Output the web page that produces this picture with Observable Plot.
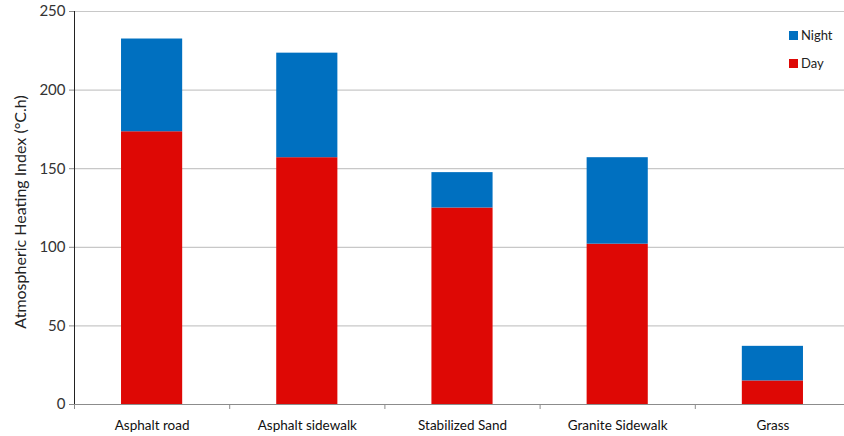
<!DOCTYPE html>
<html>
<head>
<meta charset="utf-8">
<script src="https://cdn.jsdelivr.net/npm/d3@7"></script>
<script src="https://cdn.jsdelivr.net/npm/@observablehq/plot@0.6"></script>
<style>
  html, body { margin: 0; padding: 0; background: #fff; }
  #wrap { position: relative; width: 844px; height: 436px; overflow: hidden; font-family: Lato, "Open Sans", sans-serif; }
  .legend { position: absolute; left: 789px; font-size: 13px; color: #222; display: flex; align-items: center; }
  .legend span.sw { display: inline-block; width: 9px; height: 9px; margin-right: 3px; }
</style>
</head>
<body>
<div id="wrap"></div>
<script>
const categories = ["Asphalt road", "Asphalt sidewalk", "Stabilized Sand", "Granite Sidewalk", "Grass"];
const dayValues = [173.5, 157, 125, 102, 15];
const nightValues = [59, 66.5, 22.5, 55, 22];
const seriesNames = ["Day", "Night"];
const seriesColors = ["#DE0805", "#0070C0"];
const yTicks = [0, 50, 100, 150, 200, 250];

const rows = [];
categories.forEach((c, i) => {
  rows.push({i, category: c, series: "Day", value: dayValues[i]});
  rows.push({i, category: c, series: "Night", value: nightValues[i]});
});
const idx = categories.map((c, i) => i);
const bounds = d3.range(-0.5, categories.length, 1);

const chart = Plot.plot({
  width: 844,
  height: 436,
  marginLeft: 74,
  marginRight: 0,
  marginTop: 11,
  marginBottom: 32,
  style: {fontFamily: "Lato, 'Open Sans', sans-serif", background: "#fff"},
  x: {type: "linear", domain: [-0.5, categories.length - 0.5], range: [74, 850], axis: null},
  y: {domain: [0, 250], axis: null},
  color: {domain: seriesNames, range: seriesColors},
  marks: [
    Plot.gridY(yTicks, {stroke: "#c8c8c8", strokeOpacity: 1, strokeWidth: 1.2}),
    Plot.rectY(rows, Plot.stackY({
      x1: d => d.i - 0.197,
      x2: d => d.i + 0.197,
      y: "value",
      fill: "series",
      order: seriesNames
    })),
    Plot.ruleY([0], {stroke: "#8c8c8c", strokeWidth: 1}),
    Plot.ruleX([-0.5], {y1: 0, y2: 250, stroke: "#222", strokeWidth: 1}),
    Plot.axisY({ticks: yTicks, tickSize: 5, tickPadding: 4, fontSize: 15, stroke: "#8c8c8c", color: "#333", label: null}),
    Plot.axisX({ticks: bounds, tickFormat: () => "", tickSize: 5, stroke: "#8c8c8c", label: null}),
    Plot.text(idx, {x: d => d, frameAnchor: "bottom", dy: 25, text: d => categories[d], fontSize: 13.5, fill: "#111"}),
    Plot.text(["Atmospheric Heating Index (°C.h)"], {frameAnchor: "left", textAnchor: "middle", dx: -54, dy: 4, rotate: -90, fontSize: 16, fill: "#222", text: d => d})
  ]
});
const wrap = document.getElementById("wrap");
wrap.appendChild(chart);

const legendItems = [{name: "Night", top: 27}, {name: "Day", top: 55}];
legendItems.forEach(it => {
  const el = document.createElement("div");
  el.className = "legend";
  el.style.top = it.top + "px";
  const sw = document.createElement("span");
  sw.className = "sw";
  sw.style.background = seriesColors[seriesNames.indexOf(it.name)];
  el.appendChild(sw);
  el.appendChild(document.createTextNode(it.name));
  wrap.appendChild(el);
});
</script>
</body>
</html>
